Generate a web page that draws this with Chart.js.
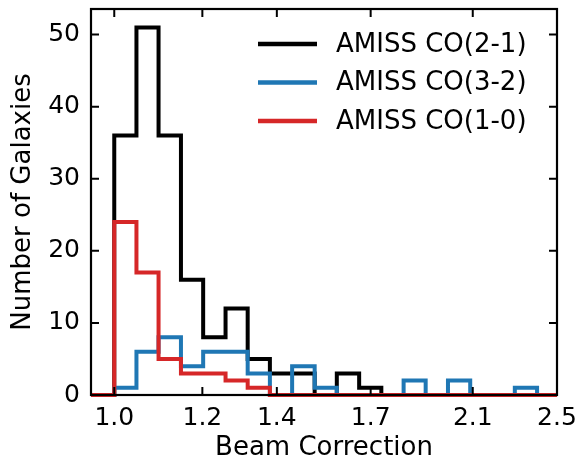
<!DOCTYPE html>
<html><head><meta charset="utf-8">
<script src="https://cdn.jsdelivr.net/npm/chart.js@4"></script>
<style>html,body{margin:0;padding:0;background:#fff;} canvas{display:block;}</style>
</head><body>
<canvas id="c" width="578" height="461"></canvas>
<script>
// Histogram bin edges (log-spaced) and counts per bin
const binEdges = [1.000,1.047,1.096,1.148,1.202,1.259,1.318,1.380,1.445,1.514,1.585,1.660,1.738,1.820,1.905,1.995,2.089,2.188,2.291,2.399,2.512];
const co21 = [36,51,36,16,8,12,5,3,3,0,3,1,0,0,0,0,0,0,0,0];
const co32 = [1,6,8,4,6,6,3,0,4,1,0,0,0,2,0,2,0,0,1,0];
const co10 = [24,17,5,3,3,2,1,0,0,0,0,0,0,0,0,0,0,0,0,0];
const seriesNames = ['AMISS CO(2-1)','AMISS CO(3-2)','AMISS CO(1-0)'];
const seriesColors = ['#000000','#1f77b4','#d62728'];
const xTicks = [1.0,1.2,1.4,1.7,2.1,2.5];
const yTicks = [0,10,20,30,40,50];
const xRange = [0.953, 2.5];
const yRange = [0, 53.55];
const xTitle = 'Beam Correction';
const yTitle = 'Number of Galaxies';

function stepPoints(counts){
  const pts = [{x: 0.9, y: 0}];
  binEdges.forEach((e,i)=>pts.push({x:e, y: i<counts.length ? counts[i] : 0}));
  return pts;
}

const FONT = 'DejaVu Sans';

const framePlugin = {
  id:'frame',
  afterDatasetsDraw(chart){
    const {ctx, chartArea:{left,right,top,bottom}, scales:{x,y}} = chart;
    ctx.save();
    ctx.strokeStyle='#000'; ctx.lineWidth=2; ctx.lineCap='butt';
    ctx.beginPath();
    x.ticks.forEach(t=>{const px=x.getPixelForValue(t.value);
      ctx.moveTo(px,bottom); ctx.lineTo(px,bottom-8);
      ctx.moveTo(px,top); ctx.lineTo(px,top+8);});
    y.ticks.forEach(t=>{const py=y.getPixelForValue(t.value);
      ctx.moveTo(left,py); ctx.lineTo(left+8,py);
      ctx.moveTo(right,py); ctx.lineTo(right-8,py);});
    ctx.stroke();
    ctx.lineWidth=2.2;
    ctx.strokeRect(left,top,right-left,bottom-top);
    // legend
    ctx.font = '26px "'+FONT+'"';
    ctx.textBaseline='middle'; ctx.textAlign='left';
    chart.data.datasets.forEach((ds,i)=>{
      const yy = 44 + i*38.5;
      ctx.strokeStyle = ds.borderColor; ctx.lineWidth=4.5;
      ctx.beginPath(); ctx.moveTo(258,yy); ctx.lineTo(317,yy); ctx.stroke();
      ctx.fillStyle='#000';
      ctx.fillText(ds.label, 336, yy+1);
    });
    ctx.restore();
  }
};

const counts = [co21, co32, co10];
new Chart(document.getElementById('c'), {
  type:'line',
  data:{
    datasets: counts.map((c,i)=>({
      label: seriesNames[i],
      data: stepPoints(c),
      borderColor: seriesColors[i],
      backgroundColor: seriesColors[i],
      borderWidth: 4,
      stepped: true,
      pointRadius: 0,
      fill: false,
      borderJoinStyle: 'miter',
      borderCapStyle: 'butt',
      order: 2 - i,
      clip: {left:0, right:0, top:10, bottom:2}
    }))
  },
  options:{
    responsive:false,
    animation:false,
    devicePixelRatio:1,
    layout:{padding:{left:0,right:21,top:9,bottom:0}},
    plugins:{legend:{display:false}, tooltip:{enabled:false}},
    scales:{
      x:{
        type:'logarithmic', min:xRange[0], max:xRange[1],
        afterBuildTicks: s=>{ s.ticks = xTicks.map(v=>({value:v})); },
        afterFit: s=>{ s.height = 66; s.paddingLeft=0; s.paddingRight=0; },
        ticks:{ callback: v=>Number(v).toFixed(1), font:{family:FONT,size:25}, color:'#000', padding:8, maxRotation:0, autoSkip:false },
        grid:{display:false, drawTicks:false},
        border:{display:false},
        title:{display:true, text:xTitle, color:'#000', font:{family:FONT,size:26,lineHeight:1}, padding:{top:0,bottom:0}}
      },
      y:{
        type:'linear', min:yRange[0], max:yRange[1],
        afterBuildTicks: s=>{ s.ticks = yTicks.map(v=>({value:v})); },
        afterFit: s=>{ s.width = 91; s.paddingTop=0; s.paddingBottom=0; },
        ticks:{ font:{family:FONT,size:25}, color:'#000', padding:11 },
        grid:{display:false, drawTicks:false},
        border:{display:false},
        title:{display:true, text:yTitle, color:'#000', font:{family:FONT,size:26,lineHeight:1}, padding:{top:10,bottom:0}}
      }
    }
  },
  plugins:[framePlugin]
});
</script>
</body></html>
